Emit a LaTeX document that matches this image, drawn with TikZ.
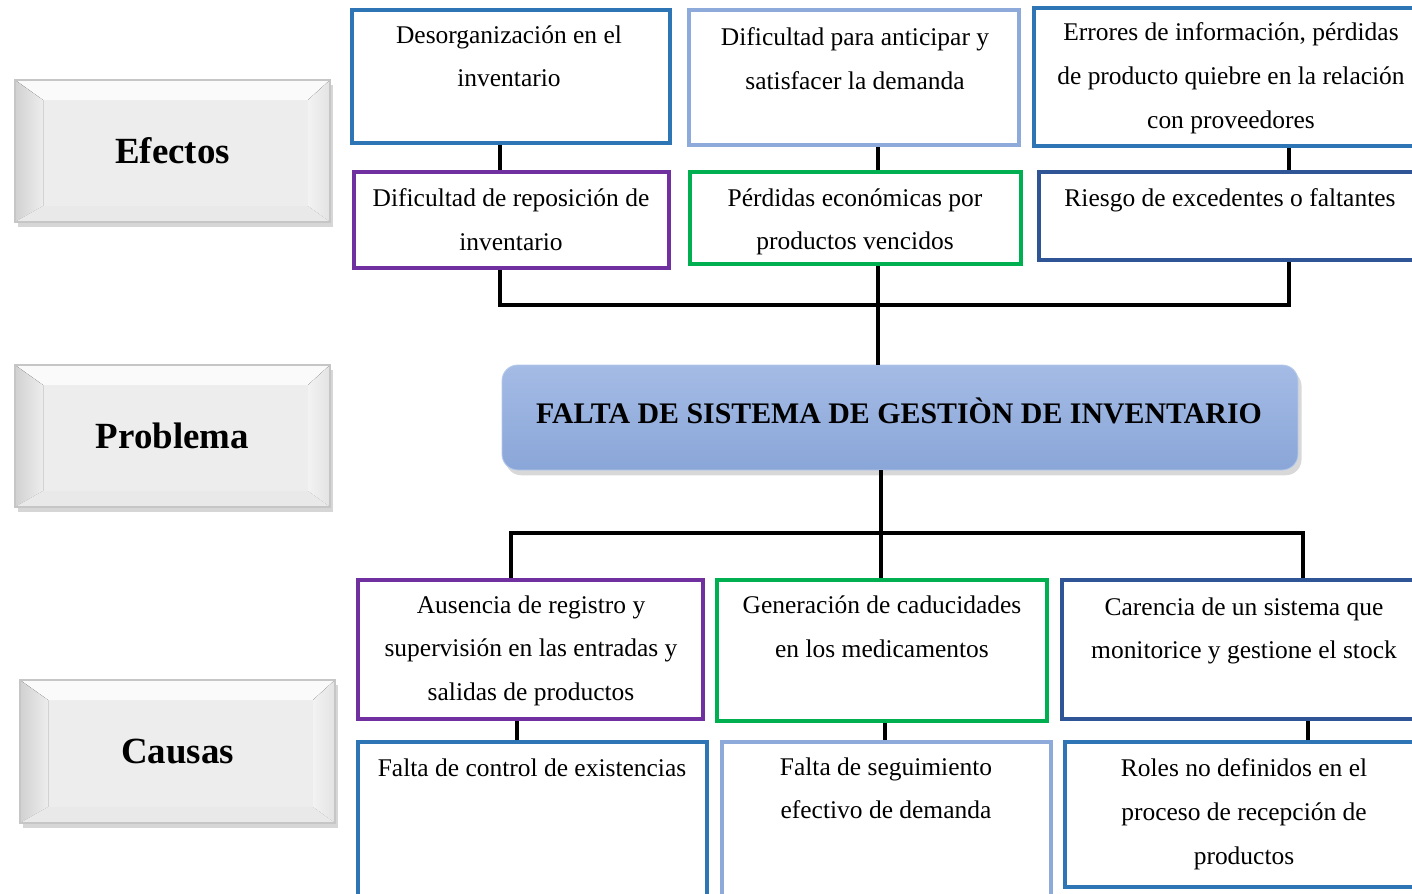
\documentclass[tikz,border=0pt]{standalone}
\usepackage{fontspec}
\setmainfont{Liberation Serif}
\usetikzlibrary{fit,shadows}
\definecolor{cblue}{HTML}{2E75B6}
\definecolor{clight}{HTML}{8EAADB}
\definecolor{cpurple}{HTML}{7030A0}
\definecolor{cgreen}{HTML}{00B050}
\definecolor{cdark}{HTML}{2F5597}
\definecolor{ptop}{HTML}{A4BBE5}
\definecolor{pbot}{HTML}{8AA6D8}
\tikzset{
  box/.style={draw, line width=2.6pt, inner sep=0pt, fill=white},
  txt/.style={align=center, inner sep=0pt, anchor=north, font=\fontsize{14.5}{25}\selectfont},
  conn/.style={draw=black, line width=2.2pt},
  lbl/.style={inner sep=0pt, font=\fontsize{21}{24}\selectfont\bfseries},
  ttl/.style={inner sep=0pt, font=\fontsize{17}{20}\selectfont\bfseries}
}
\newcommand\bevbox[6]{%
  \fill[black!40, opacity=.4] ({#2+3},{#3+5}) rectangle ({#4+3},{#5+5});
  \fill[gray!14] (#2,#3) rectangle (#4,#5);
  \fill[white!96!gray] (#2,#3) -- (#4,#3) -- ({#4-22},{#3+20}) -- ({#2+28},{#3+20}) -- cycle;
  \fill[left color=gray!36, right color=gray!14] (#2,#3) -- ({#2+28},{#3+20}) -- ({#2+28},{#5-16}) -- (#2,#5) -- cycle;
  \fill[left color=gray!10, right color=gray!22] (#4,#3) -- ({#4-22},{#3+20}) -- ({#4-22},{#5-16}) -- (#4,#5) -- cycle;
  \fill[gray!17] (#2,#5) -- ({#2+28},{#5-16}) -- ({#4-22},{#5-16}) -- (#4,#5) -- cycle;
  \node[fit={(#2,#3) (#4,#5)}, inner sep=0pt, draw=gray!45, line width=.6pt] (#1) {};
  \node[lbl] at (#1.center) {#6};
}
\begin{document}
\begin{tikzpicture}[x=0.02cm, y=-0.02cm]
\useasboundingbox (0,0) rectangle (1412,893);
\clip (0,0) rectangle (1412,893);
\fill[white] (0,0) rectangle (1412,893);

% left labels
\bevbox{Lef}{15}{80}{330}{222}{Efectos}
\bevbox{Lpr}{15}{365}{330}{507}{Problema}
\bevbox{Lca}{20}{680}{335}{823}{Causas}

% coordinates for connectors
\coordinate (c1) at (500,0);
\coordinate (c2) at (878,0);
\coordinate (c3) at (1289,0);
\coordinate (h1) at (0,305);
\coordinate (c4) at (881,0);
\coordinate (c5) at (511,0);
\coordinate (c6) at (1303,0);
\coordinate (h2) at (0,533);
\coordinate (c7) at (517,0);
\coordinate (c8) at (885,0);
\coordinate (c9) at (1308,0);

% effects
\node[box, draw=cblue, fit={(352,10) (670,143)}] (A) {};
\node[box, draw=clight, fit={(689,10) (1019,145)}] (B) {};
\node[box, draw=cblue, fit={(1034,8) (1425,146)}] (C) {};
\node[box, draw=cpurple, fit={(354,172) (669,268)}] (D) {};
\node[box, draw=cgreen, fit={(690,172) (1021,264)}] (E) {};
\node[box, draw=cdark, fit={(1039,172) (1425,260)}] (F) {};

\node[txt] (tA) at (509,25) {Desorganización en el\\inventario};
\node[txt] (tB) at (855,27) {Dificultad para anticipar y\\satisfacer la demanda};
\node[txt] (tC) at (1231,22) {Errores de información, pérdidas\\de producto quiebre en la relación\\con proveedores};
\node[txt] (tD) at (511,188) {Dificultad de reposición de\\inventario};
\node[txt] (tE) at (855,188) {Pérdidas económicas por\\productos vencidos};
\node[txt] (tF) at (1230,188) {Riesgo de excedentes o faltantes};

% problem
\node[fit={(502,365) (1298,470)}, inner sep=0pt, rounded corners=9pt,
      top color=ptop, bottom color=pbot, draw=ptop!80!white, line width=.5pt,
      drop shadow={opacity=.3, shadow xshift=2pt, shadow yshift=-3pt}] (P) {};
\node[ttl] (tP) at (899,411) {FALTA DE SISTEMA DE GESTIÒN DE INVENTARIO};

% causes
\node[box, draw=cpurple, fit={(358,580) (703,719)}] (G) {};
\node[box, draw=cgreen, fit={(717,580) (1047,721)}] (H) {};
\node[box, draw=cdark, fit={(1062,580) (1425,719)}] (I) {};
\node[box, draw=cblue, fit={(358,742) (707,900)}] (J) {};
\node[box, draw=clight, fit={(722,742) (1051,900)}] (K) {};
\node[box, draw=cblue, fit={(1065,742) (1425,887)}] (L) {};

\node[txt] (tG) at (531,595) {Ausencia de registro y\\supervisión en las entradas y\\salidas de productos};
\node[txt] (tH) at (882,595) {Generación de caducidades\\en los medicamentos};
\node[txt] (tI) at (1244,597) {Carencia de un sistema que\\monitorice y gestione el stock};
\node[txt] (tJ) at (532,758) {Falta de control de existencias};
\node[txt] (tK) at (886,757) {Falta de seguimiento\\efectivo de demanda};
\node[txt] (tL) at (1244,758) {Roles no definidos en el\\proceso de recepción de\\productos};

% connectors (top)
\draw[conn] (A.south -| c1) -- (D.north -| c1);
\draw[conn] (B.south -| c2) -- (E.north -| c2);
\draw[conn] (C.south -| c3) -- (F.north -| c3);
\draw[conn] (D.south -| c1) -- (c1 |- h1) -- (c3 |- h1) -- (F.south -| c3);
\draw[conn] (E.south -| c2) -- (P.north -| c2);

% connectors (bottom)
\draw[conn] (P.south -| c4) -- (H.north -| c4);
\draw[conn] (G.north -| c5) -- (c5 |- h2) -- (c6 |- h2) -- (I.north -| c6);
\draw[conn] (G.south -| c7) -- (J.north -| c7);
\draw[conn] (H.south -| c8) -- (K.north -| c8);
\draw[conn] (I.south -| c9) -- (L.north -| c9);
\end{tikzpicture}
\end{document}
